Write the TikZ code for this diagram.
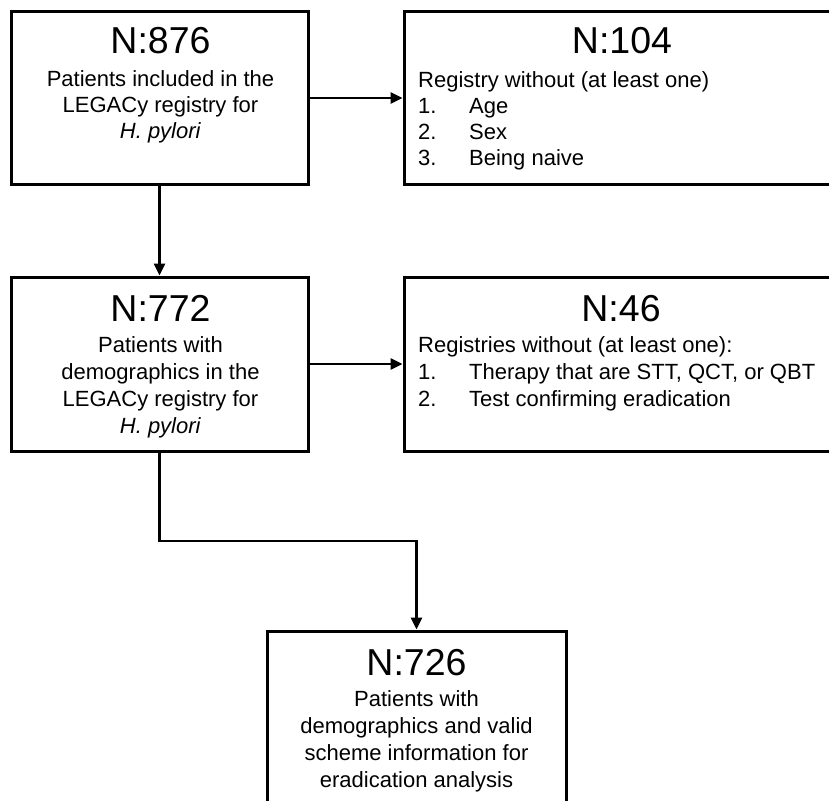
\documentclass[tikz,border=0pt]{standalone}
\usepackage{fontspec}
\setmainfont{Liberation Sans}
\usetikzlibrary{arrows.meta}
\tikzset{
  box/.style={draw=black, line width=3pt, rectangle, inner sep=0pt, fill=white},
  arr/.style={draw=black, line width=2.8pt, -{Triangle[length=12pt,width=11pt]}},
  title/.style={anchor=base, inner sep=0pt, font=\fontsize{37.5}{40}\selectfont},
  body/.style={anchor=base, inner sep=0pt, align=center},
  listtxt/.style={anchor=base west, inner sep=0pt, align=left}
}
\newcommand{\itm}[1]{\makebox[51pt][l]{#1}}
\newcommand{\fs}[1]{\fontsize{22}{#1}\selectfont}
\begin{document}
\begin{tikzpicture}[x=1pt,y=-1pt]
\useasboundingbox (0,0) rectangle (829,800);
\fill[white] (0,0) rectangle (829,800);
\clip (0,0) rectangle (829,800);

% boxes
\node[box, minimum width=297pt, minimum height=172pt] (b1) at (159.5,98) {};
\node[box, minimum width=436pt, minimum height=172pt] (b2) at (622,98) {};
\node[box, minimum width=297pt, minimum height=174pt] (b3) at (159.5,364) {};
\node[box, minimum width=436pt, minimum height=174pt] (b4) at (622,364) {};
\node[box, minimum width=299pt, minimum height=174pt] (b5) at (416.5,718) {};

% box 1 (multi-line nodes: base = last line baseline)
\node[title] (t1) at (160.5,53) {N:876};
\node[body, font=\fs{26}] (x1) at (160.5,138) {Patients included in the\\LEGACy registry for\\\textit{H. pylori}};

% box 2
\node[title] (t2) at (622,53) {N:104};
\node[listtxt, font=\fs{26}] (x2) at (418,165) {Registry without (at least one)\\\itm{1.}Age\\\itm{2.}Sex\\\itm{3.}Being naive};

% box 3
\node[title] (t3) at (160.5,321) {N:772};
\node[body, font=\fs{27}] (x3) at (160.5,433) {Patients with\\demographics in the\\LEGACy registry for\\\textit{H. pylori}};

% box 4
\node[title] (t4) at (621,321) {N:46};
\node[listtxt, font=\fs{27}] (x4) at (418,406) {Registries without (at least one):\\\itm{1.}Therapy that are STT, QCT, or QBT\\\itm{2.}Test confirming eradication};

% box 5
\node[title] (t5) at (416.5,675) {N:726};
\node[body, font=\fs{26.7}] (x5) at (416.5,787) {Patients with\\demographics and valid\\scheme information for\\eradication analysis};

% connectors
\coordinate (turn) at (416.5,541);
\draw[arr] (b1.east) -- (b2.west);
\draw[arr] (b1.south) -- (b3.north);
\draw[arr] (b3.east) -- (b4.west);
\draw[arr] (b3.south) |- (turn) -- (b5.north);
\end{tikzpicture}
\end{document}
